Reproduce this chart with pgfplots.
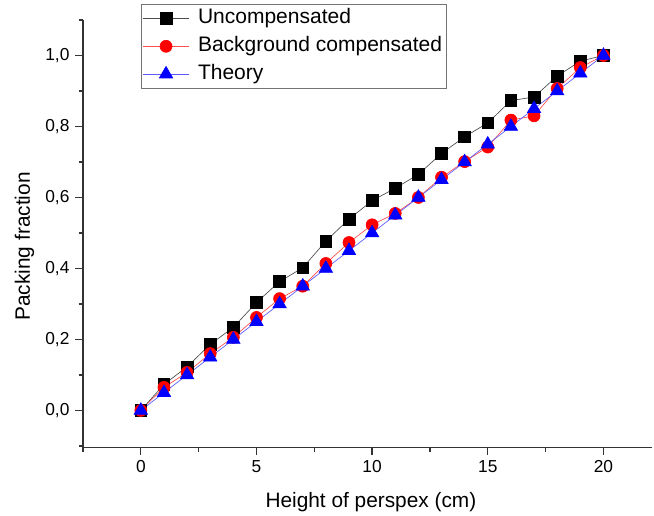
\documentclass[border=0pt]{standalone}
\usepackage{fontspec}
\setmainfont{Liberation Sans}
\usepackage{pgfplots}
\pgfplotsset{compat=1.18}

\begin{document}
\begin{tikzpicture}
\begin{axis}[
    scale only axis,
    width=341.4pt, height=256.4pt,
    xmin=-2.5, xmax=22.1,
    ymin=-0.104, ymax=1.1,
    axis x line*=bottom, axis y line*=left,
    axis line style={black!80, line width=0.9pt},
    tick align=outside,
    major tick length=4.6pt, minor tick length=2.6pt,
    every tick/.style={black!80, line width=0.8pt},
    xtick={0,5,10,15,20},
    minor xtick={-2.5,2.5,7.5,12.5,17.5},
    ytick={0,0.2,0.4,0.6,0.8,1.0},
    minor ytick={-0.1,0.1,0.3,0.5,0.7,0.9,1.1},
    /pgf/number format/assume math mode=true,
    yticklabel style={/pgf/number format/.cd, use comma, fixed, fixed zerofill, precision=1},
    tick label style={font=\fontsize{10.4}{12}\selectfont},
    xlabel={Height of perspex (cm)},
    ylabel={Packing fraction},
    label style={font=\fontsize{12.5}{14}\selectfont},
    xlabel style={at={(rel axis cs:0.506,-0.1405)}, anchor=base},
    ylabel style={at={(rel axis cs:-0.0932,0.47)}, anchor=base},
    legend cell align=left,
    legend image code/.code={\draw[mark repeat=2,mark phase=2,#1] plot coordinates {(0pt,0pt) (14pt,0pt) (28pt,0pt)};},
    legend style={at={(rel axis cs:0.102,1.0375)}, anchor=north west,
        draw=black!55, line width=0.6pt, font=\fontsize{12.6}{14}\selectfont,
        inner sep=0.5pt, row sep=0.9pt,
        nodes={text height=9.2pt, text depth=2.6pt, inner sep=2pt},
        /tikz/every odd column/.append style={column sep=3pt}},
]
\addplot[black!70, line width=0.4pt, mark=square*, mark size=3.5pt,
    mark options={solid, fill=black, draw=black}] coordinates {
    (0,0) (1,0.073) (2,0.123) (3,0.186) (4,0.234) (5,0.304) (6,0.363)
    (7,0.402) (8,0.477) (9,0.539) (10,0.591) (11,0.626) (12,0.665)
    (13,0.724) (14,0.771) (15,0.810) (16,0.873) (17,0.883) (18,0.942)
    (19,0.984) (20,1.0)
};
\addplot[red!70, line width=0.4pt, mark=*, mark size=3.6pt,
    mark options={solid, fill=red, draw=red}] coordinates {
    (0,0) (1,0.065) (2,0.107) (3,0.160) (4,0.206) (5,0.262) (6,0.315)
    (7,0.350) (8,0.414) (9,0.473) (10,0.523) (11,0.555) (12,0.600)
    (13,0.657) (14,0.701) (15,0.742) (16,0.818) (17,0.830) (18,0.907)
    (19,0.966) (20,1.0)
};
\addplot[blue!65, line width=0.4pt, mark=triangle*, mark size=4.6pt,
    mark options={solid, fill=blue, draw=blue}] coordinates {
    (0,0) (1,0.05) (2,0.10) (3,0.15) (4,0.20) (5,0.25) (6,0.30)
    (7,0.35) (8,0.40) (9,0.45) (10,0.50) (11,0.55) (12,0.60)
    (13,0.65) (14,0.70) (15,0.75) (16,0.80) (17,0.85) (18,0.90)
    (19,0.95) (20,1.0)
};
\legend{Uncompensated, Background compensated, Theory}
\end{axis}
\pgfresetboundingbox
\path[use as bounding box] ([xshift=-49.8pt,yshift=-40.8pt]current axis.south west)
    rectangle ([xshift=1.2pt,yshift=12pt]current axis.north east);
\end{tikzpicture}
\end{document}
